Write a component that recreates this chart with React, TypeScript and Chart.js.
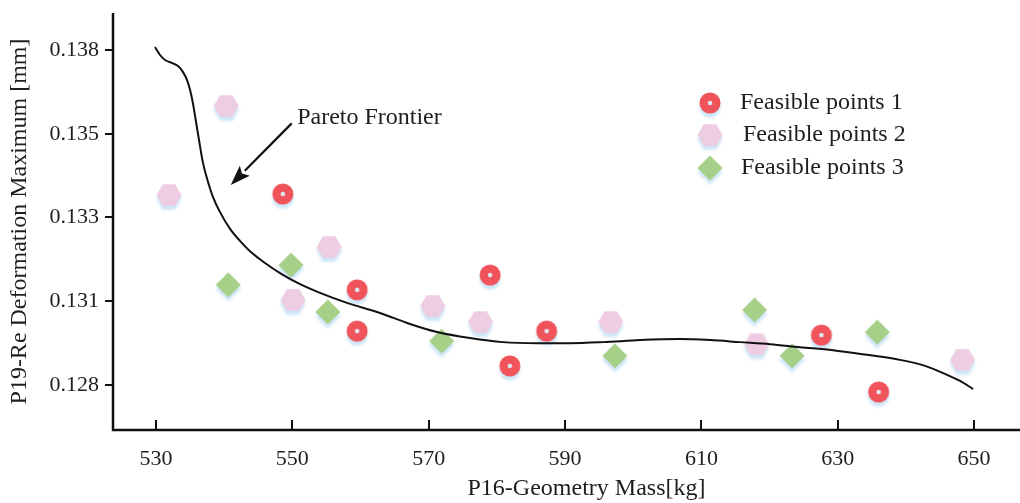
import React, { useEffect, useRef } from "react";
import { Chart, registerables } from "chart.js";

Chart.register(...registerables);

// ---- Data ----
const massTicks = [530, 550, 570, 590, 610, 630, 650];
const defTickValues = [0.128, 0.1305, 0.133, 0.1355, 0.138];
const defTickLabels = ["0.128", "0.131", "0.133", "0.135", "0.138"];

const frontierMass = [529.85, 530.59, 531.32, 532.35, 533.23, 533.96, 534.55, 534.99, 535.43, 535.87, 536.31, 536.89, 537.63, 538.36, 539.39, 540.86, 542.32, 543.79, 545.99, 548.19, 551.12, 554.06, 558.02, 562.86, 567.26, 571.22, 576.06, 580.9, 585.89, 590.73, 595.57, 601.0, 606.87, 611.27, 615.67, 620.07, 624.47, 629.31, 634.3, 639.14, 642.81, 645.74, 647.94, 649.85];
const frontierDef = [0.13809, 0.13785, 0.1377, 0.13761, 0.13752, 0.13734, 0.1371, 0.13681, 0.13639, 0.13585, 0.13531, 0.13463, 0.13406, 0.13361, 0.13316, 0.13266, 0.1323, 0.13199, 0.13164, 0.13134, 0.13101, 0.13075, 0.13045, 0.13015, 0.12982, 0.12958, 0.1294, 0.12928, 0.12925, 0.12925, 0.12928, 0.12934, 0.12937, 0.12934, 0.12928, 0.12922, 0.12913, 0.12904, 0.1289, 0.12875, 0.12857, 0.12833, 0.12812, 0.12788];

const fp1Mass = [548.6, 559.5, 559.5, 579.0, 581.9, 587.3, 627.6, 636.0];
const fp1Def = [0.1337, 0.13084, 0.12961, 0.13128, 0.12857, 0.12961, 0.12949, 0.12779];

const fp2Mass = [531.9, 540.3, 550.1, 555.4, 570.6, 577.6, 596.7, 618.1, 648.3];
const fp2Def = [0.13367, 0.13633, 0.13054, 0.13212, 0.13036, 0.12988, 0.12988, 0.12922, 0.12875];

const fp3Mass = [540.6, 549.8, 555.2, 571.9, 597.3, 617.8, 623.3, 635.8];
const fp3Def = [0.13099, 0.13158, 0.13018, 0.12931, 0.12887, 0.13024, 0.12887, 0.12958];

const seriesNames = ["Feasible points 1", "Feasible points 2", "Feasible points 3"];
const annotationText = "Pareto Frontier";
const arrowTail = { x: 549.9, y: 0.13581 };
const arrowTip = { x: 540.96, y: 0.13397 };
const annotationPos = { x: 550.7, y: 0.13597 };

const xTitle = "P16-Geometry Mass[kg]";
const yTitle = "P19-Re Deformation Maximum [mm]";

const FONT = "'Liberation Serif', 'Times New Roman', serif";
const TEXT = "#1e1e1e";

function makeMarker(kind: "circle" | "hex" | "diamond"): HTMLCanvasElement {
  const c = document.createElement("canvas");
  c.width = 40;
  c.height = 40;
  const g = c.getContext("2d")!;
  const cx = 20, cy = 20;
  g.save();
  g.shadowColor = "rgba(160, 205, 240, 0.55)";
  g.shadowOffsetY = 4;
  g.shadowBlur = 3;
  g.beginPath();
  if (kind === "circle") {
    g.fillStyle = "#f0535a";
    g.arc(cx, cy, 10.5, 0, Math.PI * 2);
  } else if (kind === "hex") {
    g.fillStyle = "#eecde2";
    const r = 12.5;
    for (let i = 0; i < 6; i++) {
      const a = (Math.PI / 3) * i;
      const px = cx + r * Math.cos(a);
      const py = cy + r * Math.sin(a);
      if (i === 0) g.moveTo(px, py); else g.lineTo(px, py);
    }
    g.closePath();
  } else {
    g.fillStyle = "#a6cf88";
    const r = 12.5;
    g.moveTo(cx, cy - r);
    g.lineTo(cx + r, cy);
    g.lineTo(cx, cy + r);
    g.lineTo(cx - r, cy);
    g.closePath();
  }
  g.fill();
  g.restore();
  if (kind === "circle") {
    g.beginPath();
    g.fillStyle = "#dfe9f3";
    g.arc(cx, cy, 2.3, 0, Math.PI * 2);
    g.fill();
  }
  return c;
}

export default function App() {
  const ref = useRef<HTMLCanvasElement | null>(null);

  useEffect(() => {
    document.body.style.margin = "0";
    const canvas = ref.current;
    if (!canvas) return;

    const markers = [makeMarker("circle"), makeMarker("hex"), makeMarker("diamond")];

    const decor = {
      id: "decor",
      afterDraw(chart: any) {
        const { ctx, chartArea } = chart;
        const { left, top, bottom } = chartArea;
        const right = chart.width;
        const xs = chart.scales.x;
        const ys = chart.scales.y;
        ctx.save();
        ctx.strokeStyle = "#111";
        ctx.lineWidth = 2.5;
        ctx.lineCap = "butt";
        // axis lines
        ctx.beginPath();
        ctx.moveTo(left, top);
        ctx.lineTo(left, bottom);
        ctx.moveTo(left - 1.25, bottom);
        ctx.lineTo(right, bottom);
        ctx.stroke();
        // ticks
        ctx.lineWidth = 2;
        ctx.beginPath();
        massTicks.forEach((v) => {
          const px = Math.round(xs.getPixelForValue(v));
          ctx.moveTo(px, bottom);
          ctx.lineTo(px, bottom - 10);
        });
        defTickValues.forEach((v) => {
          const py = Math.round(ys.getPixelForValue(v));
          ctx.moveTo(left - 8, py);
          ctx.lineTo(left, py);
        });
        ctx.stroke();

        // axis titles
        ctx.fillStyle = TEXT;
        ctx.font = `24px ${FONT}`;
        ctx.textAlign = "center";
        ctx.textBaseline = "middle";
        ctx.fillText(xTitle, (left + right) / 2 + 20, 489);
        ctx.save();
        ctx.translate(20, (top + bottom) / 2);
        ctx.rotate(-Math.PI / 2);
        ctx.fillText(yTitle, 0, 0);
        ctx.restore();

        // annotation arrow
        const tx = xs.getPixelForValue(arrowTail.x);
        const ty = ys.getPixelForValue(arrowTail.y);
        const hx = xs.getPixelForValue(arrowTip.x);
        const hy = ys.getPixelForValue(arrowTip.y);
        const ang = Math.atan2(hy - ty, hx - tx);
        const headLen = 20, headW = 7;
        const bx = hx - headLen * Math.cos(ang);
        const by = hy - headLen * Math.sin(ang);
        ctx.strokeStyle = "#111";
        ctx.lineWidth = 2.2;
        ctx.beginPath();
        ctx.moveTo(tx, ty);
        ctx.lineTo(bx, by);
        ctx.stroke();
        ctx.fillStyle = "#111";
        ctx.beginPath();
        ctx.moveTo(hx, hy);
        ctx.lineTo(bx + headW * Math.sin(ang), by - headW * Math.cos(ang));
        ctx.lineTo(bx + 4 * Math.cos(ang), by + 4 * Math.sin(ang));
        ctx.lineTo(bx - headW * Math.sin(ang), by + headW * Math.cos(ang));
        ctx.closePath();
        ctx.fill();

        ctx.fillStyle = TEXT;
        ctx.font = `24px ${FONT}`;
        ctx.textAlign = "left";
        ctx.textBaseline = "middle";
        ctx.fillText(annotationText, xs.getPixelForValue(annotationPos.x), ys.getPixelForValue(annotationPos.y));

        // legend
        const legX = 710;
        const legY = [103, 135, 168];
        const textX = [740, 743, 741];
        ctx.font = `24px ${FONT}`;
        seriesNames.forEach((name, i) => {
          const m = markers[i];
          ctx.drawImage(m, legX - m.width / 2, legY[i] - m.height / 2);
          ctx.fillStyle = TEXT;
          ctx.fillText(name, textX[i], legY[i]);
        });
        ctx.restore();
      },
    };

    const toPts = (xs: number[], ys: number[]) => xs.map((x, i) => ({ x, y: ys[i] }));

    const chart = new Chart(canvas, {
      type: "scatter",
      data: {
        datasets: [
          {
            type: "line",
            label: "Pareto Frontier",
            data: toPts(frontierMass, frontierDef),
            borderColor: "#111",
            borderWidth: 2,
            pointRadius: 0,
            cubicInterpolationMode: "monotone",
            fill: false,
            order: 0,
          } as any,
          {
            label: seriesNames[0],
            data: toPts(fp1Mass, fp1Def),
            pointStyle: markers[0],
            order: 1,
          },
          {
            label: seriesNames[1],
            data: toPts(fp2Mass, fp2Def),
            pointStyle: markers[1],
            order: 2,
          },
          {
            label: seriesNames[2],
            data: toPts(fp3Mass, fp3Def),
            pointStyle: markers[2],
            order: 3,
          },
        ],
      },
      options: {
        animation: false,
        responsive: false,
        devicePixelRatio: 1,
        layout: { padding: { top: 13, right: 0, left: 0, bottom: 0 } },
        plugins: { legend: { display: false }, tooltip: { enabled: false } },
        scales: {
          x: {
            type: "linear",
            min: 523.69,
            max: 656.0,
            afterBuildTicks: (s: any) => {
              s.ticks = massTicks.map((v) => ({ value: v }));
            },
            afterFit: (s: any) => {
              s.height = 73;
              s.paddingLeft = 0;
              s.paddingRight = 0;
            },
            grid: { display: false, drawTicks: false },
            border: { display: false },
            ticks: {
              font: { family: FONT, size: 22 },
              color: TEXT,
              padding: 16,
              maxRotation: 0,
              autoSkip: false,
              callback: (v: any) => String(v),
            },
          },
          y: {
            type: "linear",
            min: 0.126657,
            max: 0.139104,
            afterBuildTicks: (s: any) => {
              s.ticks = defTickValues.map((v) => ({ value: v }));
            },
            afterFit: (s: any) => {
              s.width = 113;
              s.paddingTop = 0;
              s.paddingBottom = 0;
            },
            grid: { display: false, drawTicks: false },
            border: { display: false },
            ticks: {
              font: { family: FONT, size: 22 },
              color: TEXT,
              padding: 14,
              autoSkip: false,
              callback: (v: any) => {
                const idx = defTickValues.findIndex((t) => Math.abs(t - v) < 1e-7);
                return idx >= 0 ? defTickLabels[idx] : "";
              },
            },
          },
        },
      },
      plugins: [decor],
    });

    return () => chart.destroy();
  }, []);

  return (
    <div style={{ width: 1020, height: 503, background: "#fff" }}>
      <canvas ref={ref} width={1020} height={503} style={{ display: "block" }} />
    </div>
  );
}
